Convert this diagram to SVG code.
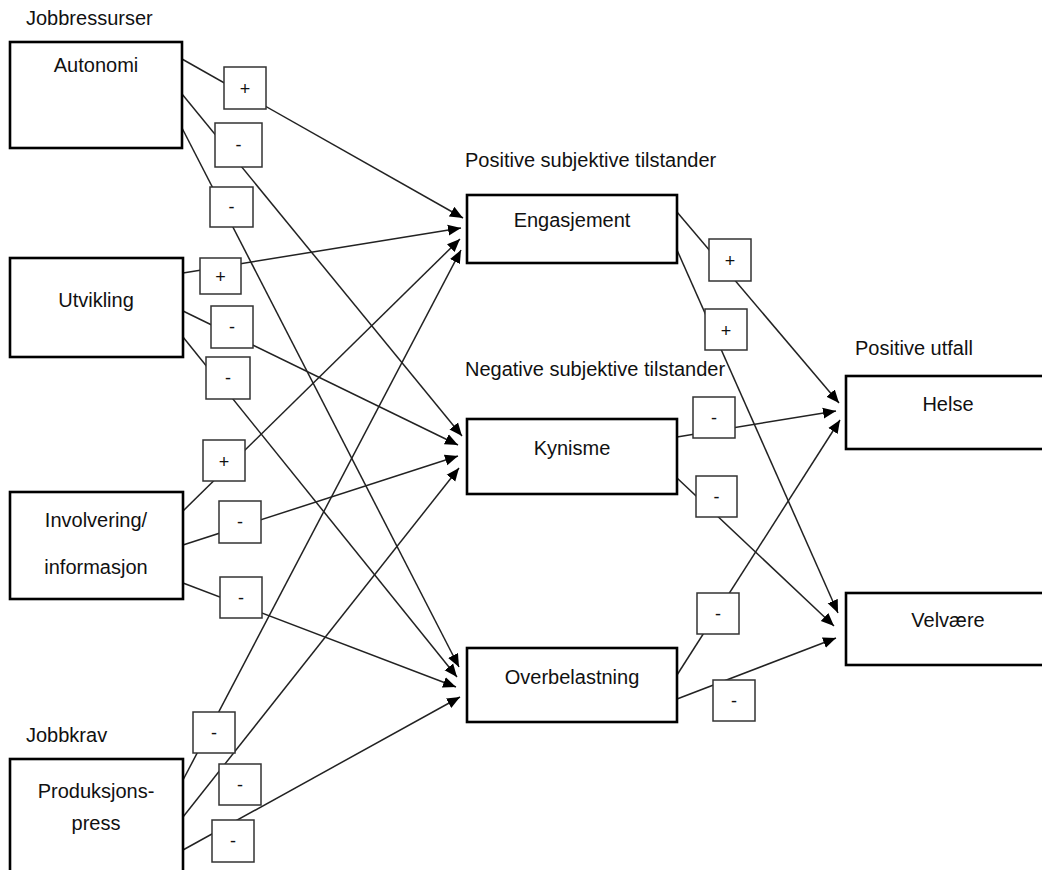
<svg xmlns="http://www.w3.org/2000/svg" width="1042" height="870" viewBox="0 0 1042 870">
<defs>
<marker id="arr" markerUnits="userSpaceOnUse" markerWidth="14" markerHeight="12" refX="13" refY="6" orient="auto">
<path d="M0,0.5 L13,6 L0,11.5 Z" fill="#000"/>
</marker>
<style>
.box{fill:#fff;stroke:#000;stroke-width:2.6}
.lbl{fill:#fff;stroke:#333;stroke-width:1.5}
.ln{stroke:#222;stroke-width:1.5;fill:none}
.arr{marker-end:url(#arr)}
text{font-family:"Liberation Sans",Arial,sans-serif;fill:#111}
.t{font-size:20px;text-anchor:middle}
.h{font-size:20px}
.s{font-size:18px;text-anchor:middle}
</style>
</defs>
<rect width="1042" height="870" fill="#fff"/>

<g id="headings">
<text class="h" x="26" y="25">Jobbressurser</text>
<text class="h" x="26" y="742">Jobbkrav</text>
<text class="h" x="465" y="167">Positive subjektive tilstander</text>
<text class="h" x="465" y="376">Negative subjektive tilstander</text>
<text class="h" x="855" y="355">Positive utfall</text>
</g>

<g id="connectors">
<line class="ln arr" x1="182" y1="59" x2="463" y2="218"/>
<line class="ln arr" x1="182" y1="94" x2="462" y2="436"/>
<line class="ln arr" x1="182" y1="128" x2="459" y2="667"/>
<line class="ln arr" x1="183" y1="273" x2="461" y2="228"/>
<line class="ln arr" x1="183" y1="311" x2="458" y2="445"/>
<line class="ln arr" x1="183" y1="337" x2="457" y2="677"/>
<line class="ln arr" x1="183" y1="511" x2="460" y2="239"/>
<line class="ln arr" x1="183" y1="545" x2="458" y2="456"/>
<line class="ln arr" x1="183" y1="583" x2="456" y2="687"/>
<line class="ln arr" x1="183" y1="780" x2="461" y2="250"/>
<line class="ln arr" x1="183" y1="817" x2="459" y2="468"/>
<line class="ln arr" x1="183" y1="850" x2="460" y2="697"/>
<line class="ln arr" x1="677" y1="212" x2="839" y2="403"/>
<line class="ln arr" x1="677" y1="250" x2="838" y2="613"/>
<line class="ln arr" x1="677" y1="437" x2="836" y2="411"/>
<line class="ln arr" x1="677" y1="478" x2="834" y2="626"/>
<line class="ln arr" x1="677" y1="675" x2="840" y2="420"/>
<line class="ln arr" x1="677" y1="699" x2="836" y2="638"/>
</g>

<g id="connector-labels">
<rect class="lbl" x="224" y="67" width="42" height="42"/><text class="s" x="245" y="95">+</text>
<rect class="lbl" x="215" y="123" width="47" height="44"/><text class="s" x="238.5" y="151">-</text>
<rect class="lbl" x="210" y="187" width="43" height="40"/><text class="s" x="231.5" y="213">-</text>
<rect class="lbl" x="200" y="258" width="41" height="36"/><text class="s" x="220.5" y="283">+</text>
<rect class="lbl" x="211" y="306" width="42" height="42"/><text class="s" x="232" y="333">-</text>
<rect class="lbl" x="206" y="357" width="44" height="42"/><text class="s" x="228" y="384">-</text>
<rect class="lbl" x="203" y="440" width="42" height="41"/><text class="s" x="224" y="468">+</text>
<rect class="lbl" x="219" y="501" width="42" height="42"/><text class="s" x="240" y="528">-</text>
<rect class="lbl" x="220" y="577" width="42" height="41"/><text class="s" x="241" y="604">-</text>
<rect class="lbl" x="193" y="712" width="42" height="41"/><text class="s" x="214" y="739">-</text>
<rect class="lbl" x="219" y="764" width="42" height="41"/><text class="s" x="240" y="791">-</text>
<rect class="lbl" x="212" y="820" width="42" height="42"/><text class="s" x="233" y="847">-</text>
<rect class="lbl" x="709" y="239" width="42" height="42"/><text class="s" x="730" y="267">+</text>
<rect class="lbl" x="705" y="309" width="42" height="41"/><text class="s" x="726" y="337">+</text>
<rect class="lbl" x="693" y="397" width="42" height="41"/><text class="s" x="714" y="424">-</text>
<rect class="lbl" x="696" y="476" width="41" height="41"/><text class="s" x="716.5" y="503">-</text>
<rect class="lbl" x="697" y="593" width="42" height="41"/><text class="s" x="718" y="620">-</text>
<rect class="lbl" x="713" y="680" width="42" height="41"/><text class="s" x="734" y="707">-</text>
</g>

<g id="autonomi"><rect class="box" x="10" y="42" width="172" height="106"/><text class="t" x="96" y="72">Autonomi</text></g>
<g id="utvikling"><rect class="box" x="10" y="258" width="173" height="99"/><text class="t" x="96" y="307">Utvikling</text></g>
<g id="involvering"><rect class="box" x="10" y="492" width="173" height="107"/><text class="t" x="96" y="527">Involvering/</text><text class="t" x="96" y="574">informasjon</text></g>
<g id="produksjonspress"><rect class="box" x="10" y="759" width="173" height="130"/><text class="t" x="96" y="798">Produksjons-</text><text class="t" x="96" y="830">press</text></g>
<g id="engasjement"><rect class="box" x="467" y="195" width="210" height="68"/><text class="t" x="572" y="227">Engasjement</text></g>
<g id="kynisme"><rect class="box" x="467" y="419" width="210" height="75"/><text class="t" x="572" y="455">Kynisme</text></g>
<g id="overbelastning"><rect class="box" x="467" y="648" width="210" height="74"/><text class="t" x="572" y="684">Overbelastning</text></g>
<g id="helse"><rect class="box" x="846" y="376" width="210" height="73"/><text class="t" x="948" y="411">Helse</text></g>
<g id="velvaere"><rect class="box" x="846" y="593" width="210" height="72"/><text class="t" x="948" y="627">Velvære</text></g>
</svg>
